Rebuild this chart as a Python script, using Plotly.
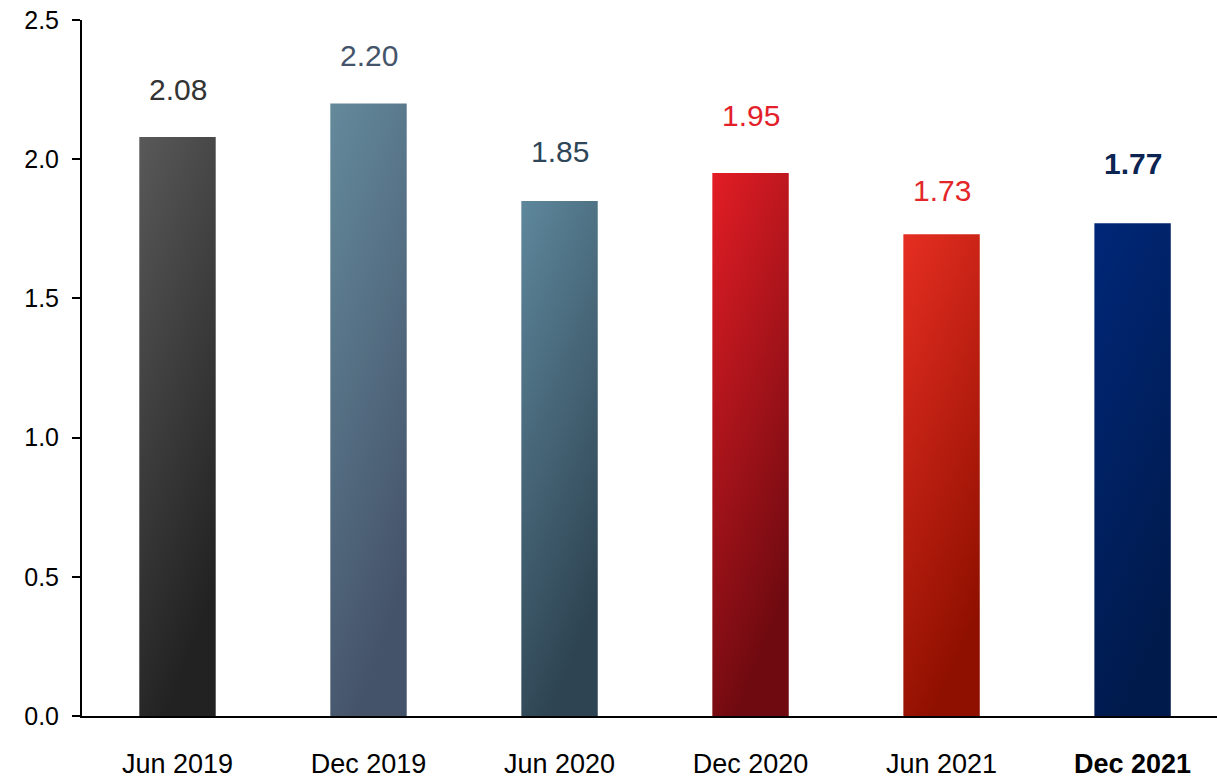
import json
import plotly.graph_objects as go

# Data
periods = ["Jun 2019", "Dec 2019", "Jun 2020", "Dec 2020", "Jun 2021", "Dec 2021"]
values = [2.08, 2.20, 1.85, 1.95, 1.73, 1.77]
tick_labels = ["Jun 2019", "Dec 2019", "Jun 2020", "Dec 2020", "Jun 2021", "<b>Dec 2021</b>"]
y_ticks = [0.0, 0.5, 1.0, 1.5, 2.0, 2.5]

# Styling
FONT = "Arial, 'Liberation Sans', sans-serif"
bar_colors = ["#3c3c3c", "#557089", "#4a6a7e", "#b8161d", "#c61e10", "#021f63"]
grad_top = ["#595959", "#648a9c", "#5e879c", "#e31d25", "#e62e22", "#002778"]
grad_bottom = ["#222222", "#45536a", "#2e4452", "#6e0a10", "#901000", "#001a4c"]
label_colors = ["#333333", "#44546a", "#2e4657", "#e3202a", "#e3262a", "#0c2452"]
label_bold = [False, False, False, False, False, True]
label_offsets = [47, 48, 49, 58, 44, 60]

fig = go.Figure()
fig.add_trace(go.Bar(
    x=periods,
    y=values,
    width=0.4,
    marker=dict(color=bar_colors, line=dict(width=0)),
    hoverinfo="x+y",
    showlegend=False,
))

for p, v, c, b, off in zip(periods, values, label_colors, label_bold, label_offsets):
    txt = f"{v:.2f}"
    if b:
        txt = f"<b>{txt}</b>"
    fig.add_annotation(
        x=p, y=v, text=txt, showarrow=False, yshift=off,
        font=dict(family=FONT, size=30, color=c),
        xanchor="center", yanchor="middle",
    )

fig.update_layout(
    width=1217, height=778,
    margin=dict(l=82, r=0, t=20, b=62),
    paper_bgcolor="white", plot_bgcolor="white",
    font=dict(family=FONT, color="black"),
    bargap=0.6,
)
fig.update_xaxes(
    type="category",
    range=[-0.5, 5.442],
    tickvals=periods, ticktext=tick_labels,
    showline=True, linecolor="black", linewidth=2,
    ticks="", showgrid=False, zeroline=False,
    tickfont=dict(family=FONT, size=27, color="black"),
    ticklabelstandoff=23,
    automargin=False,
)
fig.update_yaxes(
    range=[0, 2.5],
    tickvals=y_ticks, tickformat=".1f",
    showline=True, linecolor="black", linewidth=2,
    ticks="outside", ticklen=8, tickwidth=2, tickcolor="black",
    showgrid=False, zeroline=False,
    tickfont=dict(family=FONT, size=25, color="black"),
    ticklabelstandoff=8,
    automargin=False,
)

# Diagonal gradient fill for each bar, applied to the rendered bar paths
post = """
(function(){
  var gd = document.getElementById('{plot_id}');
  var tops = %s, bots = %s;
  var ns = 'http://www.w3.org/2000/svg';
  function applyGrad(){
    var svg = gd.querySelector('svg.main-svg');
    if(!svg) return;
    var defs = svg.querySelector('defs');
    if(!defs){ defs = document.createElementNS(ns,'defs'); svg.insertBefore(defs, svg.firstChild); }
    var paths = gd.querySelectorAll('.barlayer .point path');
    paths.forEach(function(p, i){
      var id = 'barfill' + i;
      var g = svg.querySelector('#' + id);
      if(!g){
        g = document.createElementNS(ns,'linearGradient');
        g.setAttribute('id', id);
        g.setAttribute('x1','0'); g.setAttribute('y1','0');
        g.setAttribute('x2','0.35'); g.setAttribute('y2','1');
        var s1 = document.createElementNS(ns,'stop');
        s1.setAttribute('offset','0'); s1.setAttribute('stop-color', tops[i]);
        var s2 = document.createElementNS(ns,'stop');
        s2.setAttribute('offset','1'); s2.setAttribute('stop-color', bots[i]);
        g.appendChild(s1); g.appendChild(s2);
        defs.appendChild(g);
      }
      p.style.fill = 'url(#' + id + ')';
    });
  }
  applyGrad();
  gd.on('plotly_afterplot', applyGrad);
})();
""" % (json.dumps(grad_top), json.dumps(grad_bottom))

fig.write_html("out.html", post_script=post)
